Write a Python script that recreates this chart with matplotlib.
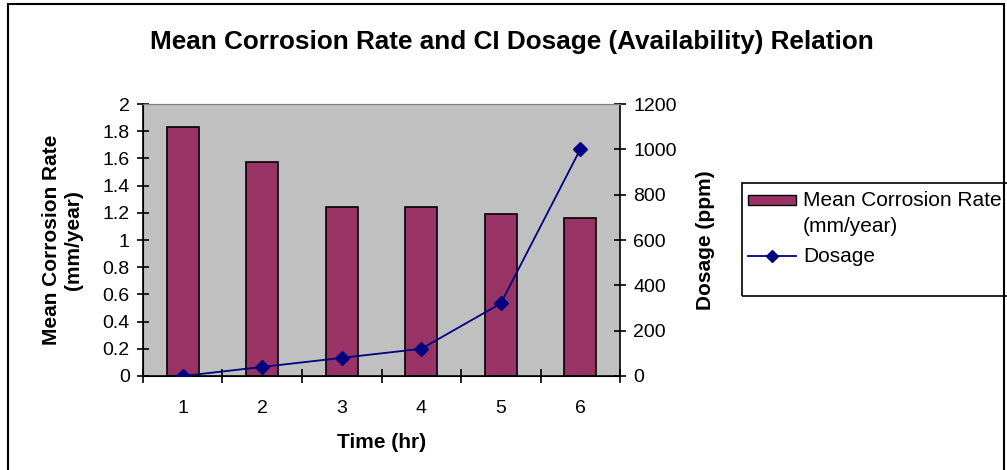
import numpy as np
import matplotlib.pyplot as plt
from matplotlib.patches import Rectangle
from matplotlib.lines import Line2D
from matplotlib.legend_handler import HandlerPatch

plt.rcParams['font.family'] = ['Liberation Sans', 'DejaVu Sans']

time_hr = ['1', '2', '3', '4', '5', '6']
corrosion_rate = [1.83, 1.57, 1.24, 1.24, 1.19, 1.16]
dosage = [0, 40, 80, 120, 320, 1000]

bar_color = '#993366'
line_color = '#000080'

fig = plt.figure(figsize=(10.07, 4.70), dpi=100)
ax = fig.add_axes([0.142, 0.2, 0.4737, 0.5787])
ax2 = ax.twinx()

x = np.arange(len(time_hr))
ax.bar(x, corrosion_rate, width=0.4, color=bar_color, edgecolor='black', linewidth=1.2, zorder=2)
ax2.plot(x, dosage, color=line_color, linewidth=1.3, marker='D', markersize=7, zorder=3)

ax.set_facecolor('#C0C0C0')
ax.set_xlim(-0.5, 5.5)
ax.set_ylim(0, 2)
ax2.set_ylim(0, 1200)
ax.set_yticks(np.arange(0, 2.01, 0.2))
ax.set_yticklabels(['0', '0.2', '0.4', '0.6', '0.8', '1', '1.2', '1.4', '1.6', '1.8', '2'])
ax2.set_yticks(np.arange(0, 1201, 200))

ax.set_xticks(np.arange(-0.5, 6, 1))
ax.set_xticklabels([])
ax.set_xticks(x, minor=True)
ax.set_xticklabels(time_hr, minor=True)
ax.tick_params(axis='x', which='minor', length=0, pad=17, labelsize=14)
ax.tick_params(axis='x', which='major', direction='inout', length=10, width=1.2)
ax.tick_params(axis='y', direction='inout', length=9, width=1.2, labelsize=14, pad=5)
ax2.tick_params(axis='y', direction='inout', length=9, width=1.2, labelsize=14, pad=5)

for s in ['left', 'bottom']:
    ax.spines[s].set_linewidth(1.2)
ax.spines['top'].set_color('#808080')
ax2.spines['top'].set_color('#808080')
ax2.spines['right'].set_linewidth(1.2)
ax.spines['right'].set_visible(False)

ax.set_xlabel('Time (hr)', fontsize=15, fontweight='bold', labelpad=12)
ax.set_ylabel('Mean Corrosion Rate\n(mm/year)', fontsize=15, fontweight='bold', labelpad=14)
ax2.set_ylabel('Dosage (ppm)', fontsize=15, fontweight='bold', labelpad=14)

fig.text(0.508, 1 - 42 / 470, 'Mean Corrosion Rate and CI Dosage (Availability) Relation',
         ha='center', va='center', fontsize=18.8, fontweight='bold')

# outer chart border
fig.patches.append(Rectangle((8 / 1007, -0.05), 996 / 1007, 1 - 4 / 470 + 0.05,
                             transform=fig.transFigure, fill=False,
                             edgecolor='black', linewidth=1.5))

# legend box
fig.patches.append(Rectangle((742 / 1007, 1 - 296 / 470), 300 / 1007, 113 / 470,
                             transform=fig.transFigure, fill=False,
                             edgecolor='black', linewidth=1.2))


def top_patch(legend, orig_handle, xdescent, ydescent, width, height, fontsize):
    # put the swatch next to the first text line, like Excel does
    return Rectangle((-xdescent, -ydescent + 0.65 * fontsize), width, height)


handles = [Rectangle((0, 0), 1, 1, facecolor=bar_color, edgecolor='black', linewidth=1),
           Line2D([], [], color=line_color, marker='D', markersize=6, linewidth=1.3)]
leg = fig.legend(handles, ['Mean Corrosion Rate\n(mm/year)', 'Dosage'],
                 loc='upper left', bbox_to_anchor=(748 / 1007, 1 - 191 / 470),
                 fontsize=15, frameon=False, handlelength=2.3, handleheight=0.4,
                 borderpad=0, labelspacing=0.55, handletextpad=0.35, borderaxespad=0,
                 handler_map={Rectangle: HandlerPatch(patch_func=top_patch)})
for t in leg.get_texts():
    t.set_linespacing(1.45)

fig.savefig('out.png', dpi=100)
